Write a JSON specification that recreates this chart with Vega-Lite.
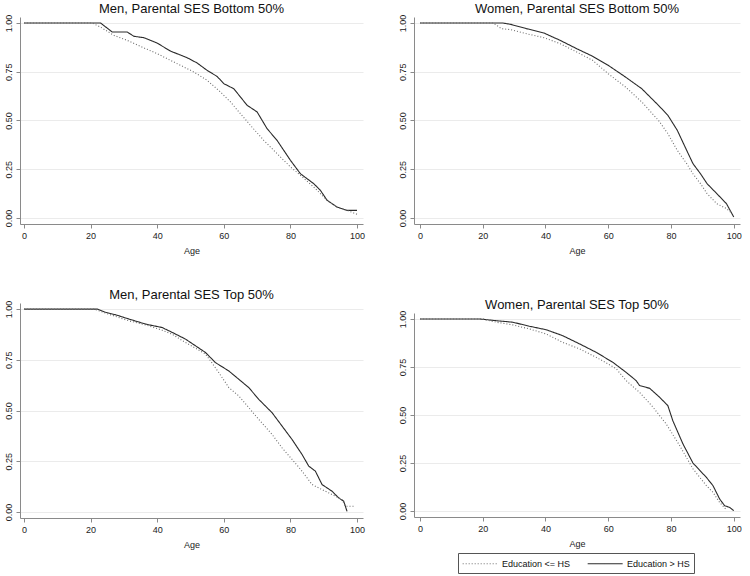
{
  "$schema": "https://vega.github.io/schema/vega-lite/v6.json",
  "padding": {"left": 3, "top": 3, "right": 0, "bottom": 0},
  "background": "white",
  "datasets": {
    "km": [
      {"panel":"MB","group":"Education > HS","age":0,"survival":1},
      {"panel":"MB","group":"Education > HS","age":23,"survival":1},
      {"panel":"MB","group":"Education > HS","age":26.5,"survival":0.954},
      {"panel":"MB","group":"Education > HS","age":31,"survival":0.954},
      {"panel":"MB","group":"Education > HS","age":33,"survival":0.932},
      {"panel":"MB","group":"Education > HS","age":36,"survival":0.925},
      {"panel":"MB","group":"Education > HS","age":40,"survival":0.897},
      {"panel":"MB","group":"Education > HS","age":44,"survival":0.856},
      {"panel":"MB","group":"Education > HS","age":49,"survival":0.822},
      {"panel":"MB","group":"Education > HS","age":52,"survival":0.795},
      {"panel":"MB","group":"Education > HS","age":55,"survival":0.757},
      {"panel":"MB","group":"Education > HS","age":58,"survival":0.726},
      {"panel":"MB","group":"Education > HS","age":60,"survival":0.689},
      {"panel":"MB","group":"Education > HS","age":63,"survival":0.663},
      {"panel":"MB","group":"Education > HS","age":67,"survival":0.578},
      {"panel":"MB","group":"Education > HS","age":70,"survival":0.544},
      {"panel":"MB","group":"Education > HS","age":73,"survival":0.458},
      {"panel":"MB","group":"Education > HS","age":76,"survival":0.398},
      {"panel":"MB","group":"Education > HS","age":80,"survival":0.296},
      {"panel":"MB","group":"Education > HS","age":83,"survival":0.227},
      {"panel":"MB","group":"Education > HS","age":87,"survival":0.176},
      {"panel":"MB","group":"Education > HS","age":89,"survival":0.142},
      {"panel":"MB","group":"Education > HS","age":91,"survival":0.091},
      {"panel":"MB","group":"Education > HS","age":94,"survival":0.056},
      {"panel":"MB","group":"Education > HS","age":97,"survival":0.039},
      {"panel":"MB","group":"Education > HS","age":100,"survival":0.039},

      {"panel":"MB","group":"Education <= HS","age":0,"survival":1},
      {"panel":"MB","group":"Education <= HS","age":20.5,"survival":1},
      {"panel":"MB","group":"Education <= HS","age":23,"survival":0.979},
      {"panel":"MB","group":"Education <= HS","age":27,"survival":0.937},
      {"panel":"MB","group":"Education <= HS","age":31,"survival":0.911},
      {"panel":"MB","group":"Education <= HS","age":35,"survival":0.88},
      {"panel":"MB","group":"Education <= HS","age":40,"survival":0.843},
      {"panel":"MB","group":"Education <= HS","age":43,"survival":0.817},
      {"panel":"MB","group":"Education <= HS","age":47,"survival":0.783},
      {"panel":"MB","group":"Education <= HS","age":51,"survival":0.749},
      {"panel":"MB","group":"Education <= HS","age":55,"survival":0.706},
      {"panel":"MB","group":"Education <= HS","age":59,"survival":0.646},
      {"panel":"MB","group":"Education <= HS","age":62,"survival":0.595},
      {"panel":"MB","group":"Education <= HS","age":65,"survival":0.535},
      {"panel":"MB","group":"Education <= HS","age":68,"survival":0.475},
      {"panel":"MB","group":"Education <= HS","age":72,"survival":0.398},
      {"panel":"MB","group":"Education <= HS","age":76,"survival":0.33},
      {"panel":"MB","group":"Education <= HS","age":80,"survival":0.262},
      {"panel":"MB","group":"Education <= HS","age":83,"survival":0.219},
      {"panel":"MB","group":"Education <= HS","age":87,"survival":0.159},
      {"panel":"MB","group":"Education <= HS","age":91,"survival":0.091},
      {"panel":"MB","group":"Education <= HS","age":94,"survival":0.056},
      {"panel":"MB","group":"Education <= HS","age":97,"survival":0.039},
      {"panel":"MB","group":"Education <= HS","age":100,"survival":0.019},

      {"panel":"WB","group":"Education > HS","age":0,"survival":1},
      {"panel":"WB","group":"Education > HS","age":26.5,"survival":1},
      {"panel":"WB","group":"Education > HS","age":29,"survival":0.993},
      {"panel":"WB","group":"Education > HS","age":34,"survival":0.971},
      {"panel":"WB","group":"Education > HS","age":39.5,"survival":0.949},
      {"panel":"WB","group":"Education > HS","age":44.7,"survival":0.911},
      {"panel":"WB","group":"Education > HS","age":50,"survival":0.868},
      {"panel":"WB","group":"Education > HS","age":55,"survival":0.83},
      {"panel":"WB","group":"Education > HS","age":60,"survival":0.783},
      {"panel":"WB","group":"Education > HS","age":65.5,"survival":0.723},
      {"panel":"WB","group":"Education > HS","age":70.7,"survival":0.663},
      {"panel":"WB","group":"Education > HS","age":76,"survival":0.578},
      {"panel":"WB","group":"Education > HS","age":79,"survival":0.527},
      {"panel":"WB","group":"Education > HS","age":82,"survival":0.45},
      {"panel":"WB","group":"Education > HS","age":85,"survival":0.347},
      {"panel":"WB","group":"Education > HS","age":87,"survival":0.279},
      {"panel":"WB","group":"Education > HS","age":89.4,"survival":0.227},
      {"panel":"WB","group":"Education > HS","age":91.5,"survival":0.176},
      {"panel":"WB","group":"Education > HS","age":94.6,"survival":0.125},
      {"panel":"WB","group":"Education > HS","age":97.7,"survival":0.073},
      {"panel":"WB","group":"Education > HS","age":100,"survival":0.005},

      {"panel":"WB","group":"Education <= HS","age":0,"survival":1},
      {"panel":"WB","group":"Education <= HS","age":23.4,"survival":1},
      {"panel":"WB","group":"Education <= HS","age":26,"survival":0.971},
      {"panel":"WB","group":"Education <= HS","age":29,"survival":0.966},
      {"panel":"WB","group":"Education <= HS","age":34,"survival":0.945},
      {"panel":"WB","group":"Education <= HS","age":39.5,"survival":0.925},
      {"panel":"WB","group":"Education <= HS","age":44.7,"survival":0.894},
      {"panel":"WB","group":"Education <= HS","age":50,"survival":0.851},
      {"panel":"WB","group":"Education <= HS","age":55,"survival":0.809},
      {"panel":"WB","group":"Education <= HS","age":60,"survival":0.74},
      {"panel":"WB","group":"Education <= HS","age":65.5,"survival":0.672},
      {"panel":"WB","group":"Education <= HS","age":70.7,"survival":0.595},
      {"panel":"WB","group":"Education <= HS","age":76,"survival":0.501},
      {"panel":"WB","group":"Education <= HS","age":79,"survival":0.433},
      {"panel":"WB","group":"Education <= HS","age":82,"survival":0.347},
      {"panel":"WB","group":"Education <= HS","age":85,"survival":0.279},
      {"panel":"WB","group":"Education <= HS","age":87,"survival":0.227},
      {"panel":"WB","group":"Education <= HS","age":89.4,"survival":0.176},
      {"panel":"WB","group":"Education <= HS","age":91.5,"survival":0.125},
      {"panel":"WB","group":"Education <= HS","age":94.6,"survival":0.073},
      {"panel":"WB","group":"Education <= HS","age":97.7,"survival":0.048},
      {"panel":"WB","group":"Education <= HS","age":99,"survival":0.03},

      {"panel":"MT","group":"Education > HS","age":0,"survival":1},
      {"panel":"MT","group":"Education > HS","age":22,"survival":1},
      {"panel":"MT","group":"Education > HS","age":24.5,"survival":0.984},
      {"panel":"MT","group":"Education > HS","age":27.5,"survival":0.972},
      {"panel":"MT","group":"Education > HS","age":31.5,"survival":0.951},
      {"panel":"MT","group":"Education > HS","age":36.5,"survival":0.926},
      {"panel":"MT","group":"Education > HS","age":41.5,"survival":0.909},
      {"panel":"MT","group":"Education > HS","age":44.5,"survival":0.885},
      {"panel":"MT","group":"Education > HS","age":48.5,"survival":0.852},
      {"panel":"MT","group":"Education > HS","age":51.5,"survival":0.819},
      {"panel":"MT","group":"Education > HS","age":54.5,"survival":0.786},
      {"panel":"MT","group":"Education > HS","age":57.5,"survival":0.736},
      {"panel":"MT","group":"Education > HS","age":61.5,"survival":0.695},
      {"panel":"MT","group":"Education > HS","age":64.5,"survival":0.654},
      {"panel":"MT","group":"Education > HS","age":67.5,"survival":0.613},
      {"panel":"MT","group":"Education > HS","age":70.5,"survival":0.555},
      {"panel":"MT","group":"Education > HS","age":74.5,"survival":0.489},
      {"panel":"MT","group":"Education > HS","age":77.5,"survival":0.423},
      {"panel":"MT","group":"Education > HS","age":80.5,"survival":0.357},
      {"panel":"MT","group":"Education > HS","age":83.5,"survival":0.283},
      {"panel":"MT","group":"Education > HS","age":85.5,"survival":0.226},
      {"panel":"MT","group":"Education > HS","age":87.5,"survival":0.201},
      {"panel":"MT","group":"Education > HS","age":89.5,"survival":0.135},
      {"panel":"MT","group":"Education > HS","age":92.5,"survival":0.102},
      {"panel":"MT","group":"Education > HS","age":94.5,"survival":0.069},
      {"panel":"MT","group":"Education > HS","age":96,"survival":0.053},
      {"panel":"MT","group":"Education > HS","age":97,"survival":0.003},

      {"panel":"MT","group":"Education <= HS","age":0,"survival":1},
      {"panel":"MT","group":"Education <= HS","age":21,"survival":1},
      {"panel":"MT","group":"Education <= HS","age":24.5,"survival":0.98},
      {"panel":"MT","group":"Education <= HS","age":31.5,"survival":0.942},
      {"panel":"MT","group":"Education <= HS","age":36.5,"survival":0.922},
      {"panel":"MT","group":"Education <= HS","age":41.5,"survival":0.896},
      {"panel":"MT","group":"Education <= HS","age":44.5,"survival":0.876},
      {"panel":"MT","group":"Education <= HS","age":48.5,"survival":0.835},
      {"panel":"MT","group":"Education <= HS","age":51.5,"survival":0.807},
      {"panel":"MT","group":"Education <= HS","age":54.5,"survival":0.778},
      {"panel":"MT","group":"Education <= HS","age":56,"survival":0.745},
      {"panel":"MT","group":"Education <= HS","age":58.5,"survival":0.687},
      {"panel":"MT","group":"Education <= HS","age":61.5,"survival":0.613},
      {"panel":"MT","group":"Education <= HS","age":64.5,"survival":0.572},
      {"panel":"MT","group":"Education <= HS","age":67.5,"survival":0.514},
      {"panel":"MT","group":"Education <= HS","age":70.5,"survival":0.456},
      {"panel":"MT","group":"Education <= HS","age":74.5,"survival":0.382},
      {"panel":"MT","group":"Education <= HS","age":77.5,"survival":0.316},
      {"panel":"MT","group":"Education <= HS","age":80.5,"survival":0.259},
      {"panel":"MT","group":"Education <= HS","age":83.5,"survival":0.201},
      {"panel":"MT","group":"Education <= HS","age":86.5,"survival":0.135},
      {"panel":"MT","group":"Education <= HS","age":89.5,"survival":0.11},
      {"panel":"MT","group":"Education <= HS","age":92.5,"survival":0.086},
      {"panel":"MT","group":"Education <= HS","age":95.5,"survival":0.061},
      {"panel":"MT","group":"Education <= HS","age":96.5,"survival":0.028},
      {"panel":"MT","group":"Education <= HS","age":99.5,"survival":0.028},

      {"panel":"WT","group":"Education > HS","age":0,"survival":1},
      {"panel":"WT","group":"Education > HS","age":19,"survival":1},
      {"panel":"WT","group":"Education > HS","age":24.3,"survival":0.991},
      {"panel":"WT","group":"Education > HS","age":29.6,"survival":0.983},
      {"panel":"WT","group":"Education > HS","age":34.9,"survival":0.962},
      {"panel":"WT","group":"Education > HS","age":40.2,"survival":0.944},
      {"panel":"WT","group":"Education > HS","age":45.5,"survival":0.913},
      {"panel":"WT","group":"Education > HS","age":50.9,"survival":0.87},
      {"panel":"WT","group":"Education > HS","age":56.2,"survival":0.826},
      {"panel":"WT","group":"Education > HS","age":61.5,"survival":0.774},
      {"panel":"WT","group":"Education > HS","age":65.7,"survival":0.722},
      {"panel":"WT","group":"Education > HS","age":68.9,"survival":0.679},
      {"panel":"WT","group":"Education > HS","age":70,"survival":0.653},
      {"panel":"WT","group":"Education > HS","age":73.2,"survival":0.639},
      {"panel":"WT","group":"Education > HS","age":76.4,"survival":0.592},
      {"panel":"WT","group":"Education > HS","age":79,"survival":0.549},
      {"panel":"WT","group":"Education > HS","age":80.6,"survival":0.47},
      {"panel":"WT","group":"Education > HS","age":83.8,"survival":0.35},
      {"panel":"WT","group":"Education > HS","age":87,"survival":0.25},
      {"panel":"WT","group":"Education > HS","age":91.3,"survival":0.175},
      {"panel":"WT","group":"Education > HS","age":93.4,"survival":0.132},
      {"panel":"WT","group":"Education > HS","age":95.5,"survival":0.063},
      {"panel":"WT","group":"Education > HS","age":97.1,"survival":0.028},
      {"panel":"WT","group":"Education > HS","age":98.7,"survival":0.019},
      {"panel":"WT","group":"Education > HS","age":100,"survival":0.002},

      {"panel":"WT","group":"Education <= HS","age":0,"survival":1},
      {"panel":"WT","group":"Education <= HS","age":20,"survival":1},
      {"panel":"WT","group":"Education <= HS","age":24.3,"survival":0.983},
      {"panel":"WT","group":"Education <= HS","age":29.6,"survival":0.969},
      {"panel":"WT","group":"Education <= HS","age":34.9,"survival":0.948},
      {"panel":"WT","group":"Education <= HS","age":40.2,"survival":0.922},
      {"panel":"WT","group":"Education <= HS","age":45.5,"survival":0.878},
      {"panel":"WT","group":"Education <= HS","age":50.9,"survival":0.844},
      {"panel":"WT","group":"Education <= HS","age":56.2,"survival":0.8},
      {"panel":"WT","group":"Education <= HS","age":59.4,"survival":0.771},
      {"panel":"WT","group":"Education <= HS","age":62.6,"survival":0.74},
      {"panel":"WT","group":"Education <= HS","age":65.7,"survival":0.679},
      {"panel":"WT","group":"Education <= HS","age":70,"survival":0.618},
      {"panel":"WT","group":"Education <= HS","age":74.3,"survival":0.54},
      {"panel":"WT","group":"Education <= HS","age":78.5,"survival":0.453},
      {"panel":"WT","group":"Education <= HS","age":82.8,"survival":0.34},
      {"panel":"WT","group":"Education <= HS","age":87,"survival":0.22},
      {"panel":"WT","group":"Education <= HS","age":91.3,"survival":0.132},
      {"panel":"WT","group":"Education <= HS","age":93.4,"survival":0.097},
      {"panel":"WT","group":"Education <= HS","age":95.5,"survival":0.045},
      {"panel":"WT","group":"Education <= HS","age":97.6,"survival":0.007}
    ]
  },
  "data": {"name": "km"},
  "resolve": {"legend": {"color": "independent", "strokeDash": "independent"}},
  "spacing": 33,
  "hconcat": [
    {
      "spacing": 34,
      "resolve": {"legend": {"color": "independent", "strokeDash": "independent"}},
      "vconcat": [
        {
          "width": 343, "height": 207,
          "title": "Men, Parental SES Bottom 50%",
          "transform": [{"filter": "datum.panel === 'MB'"}],
          "mark": {"type": "line", "strokeWidth": 1.1, "clip": true},
          "encoding": {
            "x": {"field": "age", "type": "quantitative", "title": "Age",
                  "scale": {"domain": [-1.2, 101.8], "nice": false, "zero": false},
                  "axis": {"values": [0, 20, 40, 60, 80, 100], "grid": false}},
            "y": {"field": "survival", "type": "quantitative", "title": null,
                  "scale": {"domain": [-0.031, 1.031], "nice": false, "zero": false},
                  "axis": {"values": [0, 0.25, 0.5, 0.75, 1], "format": ".2f"}},
            "strokeDash": {"field": "group", "type": "nominal", "legend": null,
                  "scale": {"domain": ["Education <= HS", "Education > HS"], "range": [[1, 2], [1, 0]]}},
            "color": {"field": "group", "type": "nominal", "legend": null,
                  "scale": {"domain": ["Education <= HS", "Education > HS"], "range": ["#6e6e6e", "#2a2a2a"]}}
          }
        },
        {
          "width": 343, "height": 215,
          "title": "Men, Parental SES Top 50%",
          "transform": [{"filter": "datum.panel === 'MT'"}],
          "mark": {"type": "line", "strokeWidth": 1.1, "clip": true},
          "encoding": {
            "x": {"field": "age", "type": "quantitative", "title": "Age",
                  "scale": {"domain": [-1.2, 101.8], "nice": false, "zero": false},
                  "axis": {"values": [0, 20, 40, 60, 80, 100], "grid": false}},
            "y": {"field": "survival", "type": "quantitative", "title": null,
                  "scale": {"domain": [-0.03, 1.03], "nice": false, "zero": false},
                  "axis": {"values": [0, 0.25, 0.5, 0.75, 1], "format": ".2f"}},
            "strokeDash": {"field": "group", "type": "nominal", "legend": null,
                  "scale": {"domain": ["Education <= HS", "Education > HS"], "range": [[1, 2], [1, 0]]}},
            "color": {"field": "group", "type": "nominal", "legend": null,
                  "scale": {"domain": ["Education <= HS", "Education > HS"], "range": ["#6e6e6e", "#2a2a2a"]}}
          }
        }
      ]
    },
    {
      "spacing": 44,
      "resolve": {"legend": {"color": "independent", "strokeDash": "independent"}},
      "vconcat": [
        {
          "width": 326, "height": 207,
          "title": "Women, Parental SES Bottom 50%",
          "transform": [{"filter": "datum.panel === 'WB'"}],
          "mark": {"type": "line", "strokeWidth": 1.1, "clip": true},
          "encoding": {
            "x": {"field": "age", "type": "quantitative", "title": "Age",
                  "scale": {"domain": [-1.9, 102], "nice": false, "zero": false},
                  "axis": {"values": [0, 20, 40, 60, 80, 100], "grid": false}},
            "y": {"field": "survival", "type": "quantitative", "title": null,
                  "scale": {"domain": [-0.031, 1.031], "nice": false, "zero": false},
                  "axis": {"values": [0, 0.25, 0.5, 0.75, 1], "format": ".2f"}},
            "strokeDash": {"field": "group", "type": "nominal", "legend": null,
                  "scale": {"domain": ["Education <= HS", "Education > HS"], "range": [[1, 2], [1, 0]]}},
            "color": {"field": "group", "type": "nominal", "legend": null,
                  "scale": {"domain": ["Education <= HS", "Education > HS"], "range": ["#6e6e6e", "#2a2a2a"]}}
          }
        },
        {
          "width": 326, "height": 204,
          "title": "Women, Parental SES Top 50%",
          "transform": [{"filter": "datum.panel === 'WT'"}],
          "mark": {"type": "line", "strokeWidth": 1.1, "clip": true},
          "encoding": {
            "x": {"field": "age", "type": "quantitative", "title": "Age",
                  "scale": {"domain": [-1.9, 102], "nice": false, "zero": false},
                  "axis": {"values": [0, 20, 40, 60, 80, 100], "grid": false}},
            "y": {"field": "survival", "type": "quantitative", "title": null,
                  "scale": {"domain": [-0.031, 1.031], "nice": false, "zero": false},
                  "axis": {"values": [0, 0.25, 0.5, 0.75, 1], "format": ".2f"}},
            "strokeDash": {"field": "group", "type": "nominal",
                  "scale": {"domain": ["Education <= HS", "Education > HS"], "range": [[1, 2], [1, 0]]},
                  "legend": {"title": null, "orient": "none", "legendX": 44, "legendY": 240, "direction": "horizontal",
                             "symbolType": "M-1,0H5", "symbolSize": 136, "symbolStrokeWidth": 1.1,
                             "strokeColor": "#555", "padding": 4, "columnPadding": 14, "labelOffset": 27,
                             "labelFontSize": 9, "labelColor": "#111", "symbolOffset": 0}},
            "color": {"field": "group", "type": "nominal",
                  "scale": {"domain": ["Education <= HS", "Education > HS"], "range": ["#6e6e6e", "#2a2a2a"]},
                  "legend": {"title": null, "orient": "none", "legendX": 44, "legendY": 240, "direction": "horizontal",
                             "symbolType": "M-1,0H5", "symbolSize": 136, "symbolStrokeWidth": 1.1,
                             "strokeColor": "#555", "padding": 4, "columnPadding": 14, "labelOffset": 27,
                             "labelFontSize": 9, "labelColor": "#111", "symbolOffset": 0}}
          }
        }
      ]
    }
  ],
  "config": {
    "font": "Liberation Sans",
    "view": {"stroke": null},
    "axis": {"domainColor": "#8a8a8a", "tickColor": "#8a8a8a", "labelFontSize": 9, "titleFontSize": 9,
             "labelColor": "#222", "titleColor": "#222", "titleFontWeight": "normal", "tickSize": 4, "labelPadding": 3,
             "titlePadding": 6, "labelFont": "Liberation Sans", "titleFont": "Liberation Sans"},
    "axisY": {"grid": true, "gridColor": "#ebebeb", "labelAngle": 270},
    "axisX": {"grid": false},
    "title": {"fontSize": 13, "fontWeight": "normal", "color": "#111", "offset": -2, "font": "Liberation Sans"}
  }
}
